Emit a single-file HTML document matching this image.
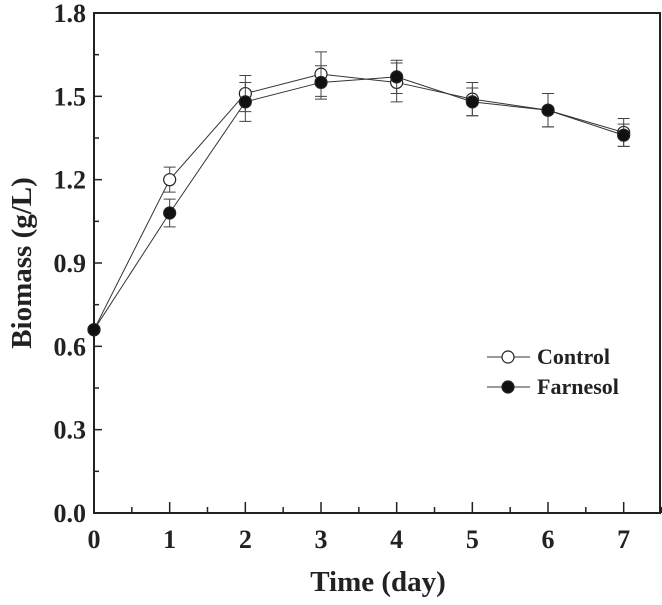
<!DOCTYPE html>
<html><head><meta charset="utf-8"><style>
body{margin:0;background:#fff}
svg text{font-family:"Liberation Serif",serif;font-weight:bold;fill:#222}
</style></head><body>
<svg id="chart" width="662" height="600"></svg>
<script>
const days=[0,1,2,3,4,5,6,7];
const controlVals=[0.66,1.20,1.51,1.58,1.55,1.49,1.45,1.37];
const controlErr=[0,0.045,0.065,0.08,0.07,0.06,0.06,0.05];
const farnesolVals=[0.66,1.08,1.48,1.55,1.57,1.48,1.45,1.36];
const farnesolErr=[0,0.05,0.07,0.06,0.06,0.05,0.06,0.04];
const yTicks=[0,0.3,0.6,0.9,1.2,1.5,1.8];
const yTickLabels=["0.0","0.3","0.6","0.9","1.2","1.5","1.8"];
const xTickLabels=["0","1","2","3","4","5","6","7"];

const svg=document.getElementById('chart');
const NS='http://www.w3.org/2000/svg';
const L=94,R=660,T=13,B=513,X0=0,X1=7.48;
const sx=v=>L+(v-X0)/(X1-X0)*(R-L);
const sy=v=>B-v/1.8*(B-T);
function mk(tag,a,parent){const e=document.createElementNS(NS,tag);for(const k in a)e.setAttribute(k,a[k]);(parent||svg).appendChild(e);return e;}

const frame=mk('rect',{x:L,y:T,width:R-L,height:B-T,fill:'none',stroke:'#222','stroke-width':2});



yTicks.forEach((v,i)=>{
  const t=mk('line',{x1:L,x2:L+8,y1:sy(v),y2:sy(v),stroke:'#222','stroke-width':1.5});
  
  
  if(i<yTicks.length-1){const m=mk('line',{x1:L,x2:L+5,y1:sy(v+0.15),y2:sy(v+0.15),stroke:'#222','stroke-width':1.5});
  
  }
  const lb=mk('text',{x:L-8,y:sy(v)+9,'text-anchor':'end','font-size':26});
  lb.textContent=yTickLabels[i];
  
  
});
days.forEach((d,i)=>{
  const t=mk('line',{x1:sx(d),x2:sx(d),y1:B,y2:B-11,stroke:'#222','stroke-width':1.5});
  
  
  const m=mk('line',{x1:sx(d+0.5),x2:sx(d+0.5),y1:B,y2:B-6,stroke:'#222','stroke-width':1.5});
  
  
  const lb=mk('text',{x:sx(d),y:B+35,'text-anchor':'middle','font-size':26});
  lb.textContent=xTickLabels[i];
  
  
});
const xt=mk('text',{x:378,y:591,'text-anchor':'middle','font-size':29});
xt.textContent='Time (day)';


const yt=mk('text',{x:0,y:0,'text-anchor':'middle','font-size':29,transform:'translate(31,263) rotate(-90)'});
yt.textContent='Biomass (g/L)';



function series(vals,errs,fill,name){
  const g=mk('g',{});
  
  
  const pl=mk('polyline',{points:days.map((d,i)=>sx(d)+','+sy(vals[i])).join(' '),fill:'none',stroke:'#333','stroke-width':1},g);
  
  
  days.forEach((d,i)=>{
    if(errs[i]>0){const x=sx(d),y1=sy(vals[i]-errs[i]),y2=sy(vals[i]+errs[i]);
      const e=mk('path',{d:`M${x},${y1}V${y2}M${x-6},${y1}H${x+6}M${x-6},${y2}H${x+6}`,stroke:'#444','stroke-width':1,fill:'none'},g);
      
      }
    const c=mk('circle',{cx:sx(d),cy:sy(vals[i]),r:6,fill:fill,stroke:'#222','stroke-width':1.2},g);
    
    
  });
}
series(controlVals,controlErr,'#fff','control');
series(farnesolVals,farnesolErr,'#111','farnesol');

[['Control','#fff',357],['Farnesol','#111',387]].forEach(([n,f,y])=>{
  const g=mk('g',{});
  
  
  mk('line',{x1:487,x2:530,y1:y,y2:y,stroke:'#333','stroke-width':1},g);
  mk('circle',{cx:508,cy:y,r:6,fill:f,stroke:'#222','stroke-width':1.2},g);
  const t=mk('text',{x:537,y:y+7,'font-size':22},g);t.textContent=n;
});
</script>
</body></html>
